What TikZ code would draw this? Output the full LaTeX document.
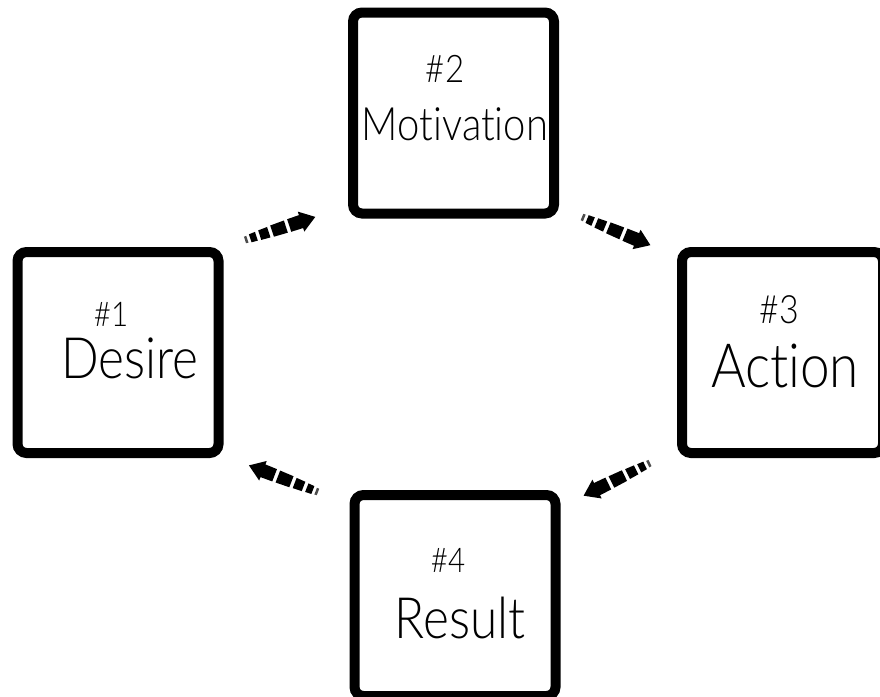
\documentclass[tikz,border=0pt]{standalone}
\usepackage{fontspec}
\newfontfamily\thinfont{Lato Light}[FakeStretch=0.87, Ligatures={NoCommon}]
\usetikzlibrary{calc}
\tikzset{
  box/.style={draw=black, fill=white, line width=10pt, rounded corners=9pt,
    minimum width=201pt, minimum height=201pt, inner sep=0pt},
  lbl/.style={anchor=base, inner sep=0pt, text=black},
  tarrow/.pic={
    \fill[black!70] (0,-3.4) -- (2.5,-3.6) -- (2.5,3.6) -- (0,3.4) -- cycle;
    \fill (5.5,-4.2) -- (12,-4.6) -- (12,4.6) -- (5.5,4.2) -- cycle;
    \fill (15.5,-5.0) -- (25,-5.5) -- (25,5.5) -- (15.5,5.0) -- cycle;
    \fill (28.5,-5.9) -- (43,-6.4) -- (43,6.4) -- (28.5,5.9) -- cycle;
    \fill (46.5,-6.6) -- (59,-6.8) -- (59,-10.5) -- (74,0) -- (59,10.5)
          -- (59,6.8) -- (46.5,6.6) -- cycle;
  }
}
\begin{document}
\begin{tikzpicture}[x=1pt, y=-1pt]
\fill[white] (0,0) rectangle (880,696);
\useasboundingbox (0,0) rectangle (880,696);

% boxes
\node[box] (d) at (118,352.5) {};
\node[box] (m) at (453.5,113) {};
\node[box] (a) at (782.5,352.5) {};
\node[box] (r) at (455,595.5) {};

% texts
\node[lbl, font=\thinfont\fontsize{34}{34}\selectfont] (dn) at (111,326) {\#1};
\node[lbl, font=\thinfont\fontsize{57}{57}\selectfont] (dt) at (130,378) {Desire};
\node[lbl, font=\thinfont\fontsize{38}{38}\selectfont] (mn) at (445,82) {\#2};
\node[lbl, font=\thinfont\fontsize{46}{46}\selectfont] (mt) at (455,140) {Motivation};
\node[lbl, font=\thinfont\fontsize{39}{39}\selectfont] (an) at (779,323) {\#3};
\node[lbl, font=\thinfont\fontsize{61}{61}\selectfont] (at) at (785,387) {Action};
\node[lbl, font=\thinfont\fontsize{34}{34}\selectfont] (rn) at (448,572) {\#4};
\node[lbl, font=\thinfont\fontsize{57}{57}\selectfont] (rt) at (460,638) {Result};

% arrow end points
\coordinate (dm1) at (245,240);
\coordinate (dm2) at (315,217);
\coordinate (ma1) at (582,217);
\coordinate (ma2) at (650,245);
\coordinate (ar1) at (650,463);
\coordinate (ar2) at (585,495);
\coordinate (rd1) at (318,492);
\coordinate (rd2) at (248,465);

% connectors
\path (dm1) -- (dm2) pic[pos=0, sloped, allow upside down]{tarrow};
\path (ma1) -- (ma2) pic[pos=0, sloped, allow upside down]{tarrow};
\path (ar1) -- (ar2) pic[pos=0, sloped, allow upside down]{tarrow};
\path (rd1) -- (rd2) pic[pos=0, sloped, allow upside down]{tarrow};
\end{tikzpicture}
\end{document}
